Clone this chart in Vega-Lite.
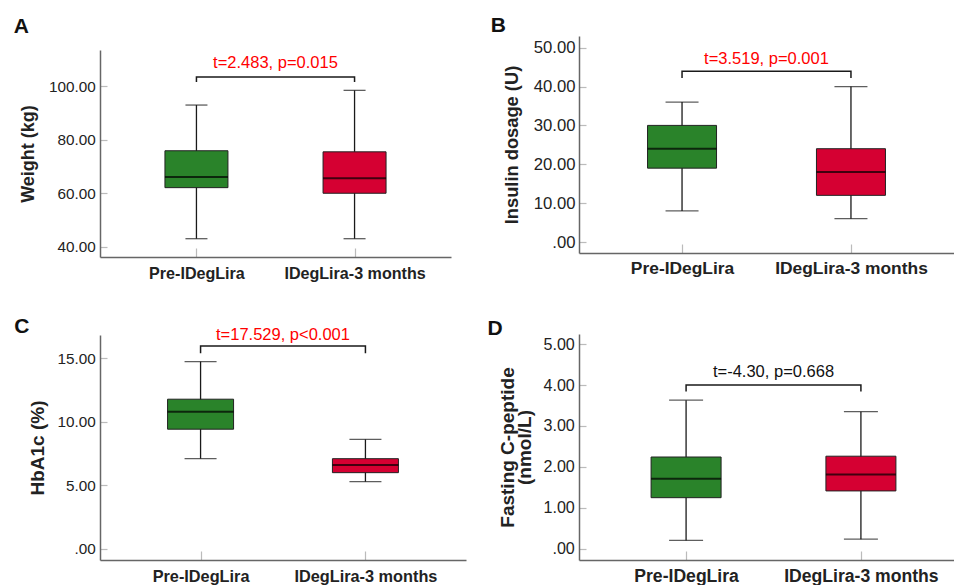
{
  "$schema": "https://vega.github.io/schema/vega-lite/v6.json",
  "background": "white",
  "padding": {"left": 13, "top": 15, "right": 0, "bottom": 0},
  "datasets": {
    "boxes": [
      {"panel": "A", "group": "Pre-IDegLira", "min": 43, "q1": 62.1, "median": 66.1, "q3": 75.9, "max": 93},
      {"panel": "A", "group": "IDegLira-3 months", "min": 43, "q1": 60, "median": 65.6, "q3": 75.5, "max": 98.5},
      {"panel": "B", "group": "Pre-IDegLira", "min": 8, "q1": 19, "median": 24, "q3": 30, "max": 36},
      {"panel": "B", "group": "IDegLira-3 months", "min": 6, "q1": 12, "median": 18, "q3": 24, "max": 40},
      {"panel": "C", "group": "Pre-IDegLira", "min": 7.1, "q1": 9.42, "median": 10.79, "q3": 11.78, "max": 14.74},
      {"panel": "C", "group": "IDegLira-3 months", "min": 5.29, "q1": 6.0, "median": 6.6, "q3": 7.1, "max": 8.62},
      {"panel": "D", "group": "Pre-IDegLira", "min": 0.2, "q1": 1.245, "median": 1.71, "q3": 2.24, "max": 3.63},
      {"panel": "D", "group": "IDegLira-3 months", "min": 0.23, "q1": 1.41, "median": 1.81, "q3": 2.26, "max": 3.35}
    ],
    "brackets": [
      {"panel": "A", "group": "Pre-IDegLira", "y": 101.6, "order": 1},
      {"panel": "A", "group": "Pre-IDegLira", "y": 103.5, "order": 2},
      {"panel": "A", "group": "IDegLira-3 months", "y": 103.5, "order": 3},
      {"panel": "A", "group": "IDegLira-3 months", "y": 101.6, "order": 4},
      {"panel": "B", "group": "Pre-IDegLira", "y": 42.2, "order": 1},
      {"panel": "B", "group": "Pre-IDegLira", "y": 43.9, "order": 2},
      {"panel": "B", "group": "IDegLira-3 months", "y": 43.9, "order": 3},
      {"panel": "B", "group": "IDegLira-3 months", "y": 42.2, "order": 4},
      {"panel": "C", "group": "Pre-IDegLira", "y": 15.39, "order": 1},
      {"panel": "C", "group": "Pre-IDegLira", "y": 15.97, "order": 2},
      {"panel": "C", "group": "IDegLira-3 months", "y": 15.97, "order": 3},
      {"panel": "C", "group": "IDegLira-3 months", "y": 15.39, "order": 4},
      {"panel": "D", "group": "Pre-IDegLira", "y": 3.84, "order": 1},
      {"panel": "D", "group": "Pre-IDegLira", "y": 4.0, "order": 2},
      {"panel": "D", "group": "IDegLira-3 months", "y": 4.0, "order": 3},
      {"panel": "D", "group": "IDegLira-3 months", "y": 3.84, "order": 4}
    ],
    "stats": [
      {"panel": "A", "label": "t=2.483, p=0.015", "y": 108.7},
      {"panel": "B", "label": "t=3.519, p=0.001", "y": 47.2},
      {"panel": "C", "label": "t=17.529, p<0.001", "y": 16.83},
      {"panel": "D", "label": "t=-4.30, p=0.668", "y": 4.31}
    ]
  },
  "hconcat": [
    {
      "vconcat": [
        {
          "width": 351, "height": 221,
          "title": {"text": "A", "offset": -1, "dx": -6},
          "layer": [
            {"data": {"name": "boxes"}, "transform": [{"filter": "datum.panel === 'A'"}],
             "mark": {"type": "rule", "color": "#1a1a1a", "strokeWidth": 1.3},
             "encoding": {
               "x": {"field": "group", "type": "nominal", "title": null, "sort": null, "scale": {"type": "point", "padding": 0.61, "domain": ["Pre-IDegLira", "IDegLira-3 months"]}, "axis": {"labelFontSize": 16.1, "labelPadding": 17}},
               "y": {"field": "min", "type": "quantitative", "title": "Weight (kg)", "scale": {"domain": [36.15, 113.6], "range": [221, 14], "nice": false, "zero": false}, "axis": {"values": [40, 60, 80, 100], "labelExpr": "datum.value === 0 ? '.00' : format(datum.value, '.2f')", "labelFontSize": 15.3, "titleFontSize": 18, "titlePadding": 10.7, "labelPadding": 11.7}},
               "y2": {"field": "max"}}},
            {"data": {"name": "boxes"}, "transform": [{"filter": "datum.panel === 'A'"}],
             "mark": {"type": "bar", "size": 63, "stroke": "#222", "strokeWidth": 1},
             "encoding": {
               "x": {"field": "group", "type": "nominal", "title": null, "sort": null, "scale": {"type": "point", "padding": 0.61, "domain": ["Pre-IDegLira", "IDegLira-3 months"]}, "axis": {"labelFontSize": 16.1, "labelPadding": 17}},
               "y": {"field": "q1", "type": "quantitative", "title": "Weight (kg)"},
               "y2": {"field": "q3"},
               "color": {"field": "group", "type": "nominal", "legend": null, "scale": {"domain": ["Pre-IDegLira", "IDegLira-3 months"], "range": ["#2a832a", "#d50032"]}}}},
            {"data": {"name": "boxes"}, "transform": [{"filter": "datum.panel === 'A'"}],
             "mark": {"type": "tick", "size": 63, "thickness": 2, "color": "#000"},
             "encoding": {
               "x": {"field": "group", "type": "nominal", "title": null, "sort": null, "scale": {"type": "point", "padding": 0.61, "domain": ["Pre-IDegLira", "IDegLira-3 months"]}, "axis": {"labelFontSize": 16.1, "labelPadding": 17}},
               "y": {"field": "median", "type": "quantitative", "title": "Weight (kg)"}}},
            {"data": {"name": "boxes"}, "transform": [{"filter": "datum.panel === 'A'"}],
             "mark": {"type": "tick", "size": 22, "thickness": 1.3, "color": "#1a1a1a"},
             "encoding": {
               "x": {"field": "group", "type": "nominal", "title": null, "sort": null, "scale": {"type": "point", "padding": 0.61, "domain": ["Pre-IDegLira", "IDegLira-3 months"]}, "axis": {"labelFontSize": 16.1, "labelPadding": 17}},
               "y": {"field": "min", "type": "quantitative", "title": "Weight (kg)"}}},
            {"data": {"name": "boxes"}, "transform": [{"filter": "datum.panel === 'A'"}],
             "mark": {"type": "tick", "size": 22, "thickness": 1.3, "color": "#1a1a1a"},
             "encoding": {
               "x": {"field": "group", "type": "nominal", "title": null, "sort": null, "scale": {"type": "point", "padding": 0.61, "domain": ["Pre-IDegLira", "IDegLira-3 months"]}, "axis": {"labelFontSize": 16.1, "labelPadding": 17}},
               "y": {"field": "max", "type": "quantitative", "title": "Weight (kg)"}}},
            {"data": {"name": "brackets"}, "transform": [{"filter": "datum.panel === 'A'"}],
             "mark": {"type": "line", "color": "#1a1a1a", "strokeWidth": 1.5},
             "encoding": {
               "x": {"field": "group", "type": "nominal", "title": null, "sort": null, "scale": {"type": "point", "padding": 0.61, "domain": ["Pre-IDegLira", "IDegLira-3 months"]}, "axis": {"labelFontSize": 16.1, "labelPadding": 17}},
               "y": {"field": "y", "type": "quantitative", "title": "Weight (kg)"},
               "order": {"field": "order"}}},
            {"data": {"name": "stats"}, "transform": [{"filter": "datum.panel === 'A'"}],
             "mark": {"type": "text", "fontSize": 16.5, "color": "#ff0000", "baseline": "middle"},
             "encoding": {
               "y": {"field": "y", "type": "quantitative", "title": "Weight (kg)"},
               "text": {"field": "label"}}}
          ]
        },
        {
          "width": 366, "height": 225,
          "title": {"text": "C", "offset": -10, "dx": -14},
          "layer": [
            {"data": {"name": "boxes"}, "transform": [{"filter": "datum.panel === 'C'"}],
             "mark": {"type": "rule", "color": "#1a1a1a", "strokeWidth": 1.3},
             "encoding": {
               "x": {"field": "group", "type": "nominal", "title": null, "sort": null, "scale": {"type": "point", "padding": 0.61, "domain": ["Pre-IDegLira", "IDegLira-3 months"]}, "axis": {"labelFontSize": 16.3, "labelPadding": 17.4}},
               "y": {"field": "min", "type": "quantitative", "title": "HbA1c (%)", "scale": {"domain": [-0.87, 16.83], "nice": false, "zero": false}, "axis": {"values": [0, 5, 10, 15], "labelExpr": "datum.value === 0 ? '.00' : format(datum.value, '.2f')", "labelFontSize": 15.3, "titleFontSize": 19, "titlePadding": 9.8, "labelPadding": 11.7}},
               "y2": {"field": "max"}}},
            {"data": {"name": "boxes"}, "transform": [{"filter": "datum.panel === 'C'"}],
             "mark": {"type": "bar", "size": 66, "stroke": "#222", "strokeWidth": 1},
             "encoding": {
               "x": {"field": "group", "type": "nominal", "title": null, "sort": null, "scale": {"type": "point", "padding": 0.61, "domain": ["Pre-IDegLira", "IDegLira-3 months"]}, "axis": {"labelFontSize": 16.3, "labelPadding": 17.4}},
               "y": {"field": "q1", "type": "quantitative", "title": "HbA1c (%)"},
               "y2": {"field": "q3"},
               "color": {"field": "group", "type": "nominal", "legend": null, "scale": {"domain": ["Pre-IDegLira", "IDegLira-3 months"], "range": ["#2a832a", "#d50032"]}}}},
            {"data": {"name": "boxes"}, "transform": [{"filter": "datum.panel === 'C'"}],
             "mark": {"type": "tick", "size": 66, "thickness": 2, "color": "#000"},
             "encoding": {
               "x": {"field": "group", "type": "nominal", "title": null, "sort": null, "scale": {"type": "point", "padding": 0.61, "domain": ["Pre-IDegLira", "IDegLira-3 months"]}, "axis": {"labelFontSize": 16.3, "labelPadding": 17.4}},
               "y": {"field": "median", "type": "quantitative", "title": "HbA1c (%)"}}},
            {"data": {"name": "boxes"}, "transform": [{"filter": "datum.panel === 'C'"}],
             "mark": {"type": "tick", "size": 32, "thickness": 1.3, "color": "#1a1a1a"},
             "encoding": {
               "x": {"field": "group", "type": "nominal", "title": null, "sort": null, "scale": {"type": "point", "padding": 0.61, "domain": ["Pre-IDegLira", "IDegLira-3 months"]}, "axis": {"labelFontSize": 16.3, "labelPadding": 17.4}},
               "y": {"field": "min", "type": "quantitative", "title": "HbA1c (%)"}}},
            {"data": {"name": "boxes"}, "transform": [{"filter": "datum.panel === 'C'"}],
             "mark": {"type": "tick", "size": 32, "thickness": 1.3, "color": "#1a1a1a"},
             "encoding": {
               "x": {"field": "group", "type": "nominal", "title": null, "sort": null, "scale": {"type": "point", "padding": 0.61, "domain": ["Pre-IDegLira", "IDegLira-3 months"]}, "axis": {"labelFontSize": 16.3, "labelPadding": 17.4}},
               "y": {"field": "max", "type": "quantitative", "title": "HbA1c (%)"}}},
            {"data": {"name": "brackets"}, "transform": [{"filter": "datum.panel === 'C'"}],
             "mark": {"type": "line", "color": "#1a1a1a", "strokeWidth": 1.5},
             "encoding": {
               "x": {"field": "group", "type": "nominal", "title": null, "sort": null, "scale": {"type": "point", "padding": 0.61, "domain": ["Pre-IDegLira", "IDegLira-3 months"]}, "axis": {"labelFontSize": 16.3, "labelPadding": 17.4}},
               "y": {"field": "y", "type": "quantitative", "title": "HbA1c (%)"},
               "order": {"field": "order"}}},
            {"data": {"name": "stats"}, "transform": [{"filter": "datum.panel === 'C'"}],
             "mark": {"type": "text", "fontSize": 16.5, "color": "#ff0000", "baseline": "middle"},
             "encoding": {
               "y": {"field": "y", "type": "quantitative", "title": "HbA1c (%)"},
               "text": {"field": "label"}}}
          ]
        }
      ],
      "spacing": 34
    },
    {
      "vconcat": [
        {
          "width": 375, "height": 217,
          "title": {"text": "B", "offset": 0, "dx": -12},
          "layer": [
            {"data": {"name": "boxes"}, "transform": [{"filter": "datum.panel === 'B'"}],
             "mark": {"type": "rule", "color": "#1a1a1a", "strokeWidth": 1.3},
             "encoding": {
               "x": {"field": "group", "type": "nominal", "title": null, "sort": null, "scale": {"type": "point", "padding": 0.61, "domain": ["Pre-IDegLira", "IDegLira-3 months"]}, "axis": {"labelFontSize": 17.4, "labelPadding": 15.3}},
               "y": {"field": "min", "type": "quantitative", "title": "Insulin dosage (U)", "scale": {"domain": [-2.83, 53.0], "nice": false, "zero": false}, "axis": {"values": [0, 10, 20, 30, 40, 50], "labelExpr": "datum.value === 0 ? '.00' : format(datum.value, '.2f')", "labelFontSize": 16.7, "titleFontSize": 18.3, "titlePadding": 11.5, "labelPadding": 11}},
               "y2": {"field": "max"}}},
            {"data": {"name": "boxes"}, "transform": [{"filter": "datum.panel === 'B'"}],
             "mark": {"type": "bar", "size": 69, "stroke": "#222", "strokeWidth": 1},
             "encoding": {
               "x": {"field": "group", "type": "nominal", "title": null, "sort": null, "scale": {"type": "point", "padding": 0.61, "domain": ["Pre-IDegLira", "IDegLira-3 months"]}, "axis": {"labelFontSize": 17.4, "labelPadding": 15.3}},
               "y": {"field": "q1", "type": "quantitative", "title": "Insulin dosage (U)"},
               "y2": {"field": "q3"},
               "color": {"field": "group", "type": "nominal", "legend": null, "scale": {"domain": ["Pre-IDegLira", "IDegLira-3 months"], "range": ["#2a832a", "#d50032"]}}}},
            {"data": {"name": "boxes"}, "transform": [{"filter": "datum.panel === 'B'"}],
             "mark": {"type": "tick", "size": 69, "thickness": 2, "color": "#000"},
             "encoding": {
               "x": {"field": "group", "type": "nominal", "title": null, "sort": null, "scale": {"type": "point", "padding": 0.61, "domain": ["Pre-IDegLira", "IDegLira-3 months"]}, "axis": {"labelFontSize": 17.4, "labelPadding": 15.3}},
               "y": {"field": "median", "type": "quantitative", "title": "Insulin dosage (U)"}}},
            {"data": {"name": "boxes"}, "transform": [{"filter": "datum.panel === 'B'"}],
             "mark": {"type": "tick", "size": 33, "thickness": 1.3, "color": "#1a1a1a"},
             "encoding": {
               "x": {"field": "group", "type": "nominal", "title": null, "sort": null, "scale": {"type": "point", "padding": 0.61, "domain": ["Pre-IDegLira", "IDegLira-3 months"]}, "axis": {"labelFontSize": 17.4, "labelPadding": 15.3}},
               "y": {"field": "min", "type": "quantitative", "title": "Insulin dosage (U)"}}},
            {"data": {"name": "boxes"}, "transform": [{"filter": "datum.panel === 'B'"}],
             "mark": {"type": "tick", "size": 33, "thickness": 1.3, "color": "#1a1a1a"},
             "encoding": {
               "x": {"field": "group", "type": "nominal", "title": null, "sort": null, "scale": {"type": "point", "padding": 0.61, "domain": ["Pre-IDegLira", "IDegLira-3 months"]}, "axis": {"labelFontSize": 17.4, "labelPadding": 15.3}},
               "y": {"field": "max", "type": "quantitative", "title": "Insulin dosage (U)"}}},
            {"data": {"name": "brackets"}, "transform": [{"filter": "datum.panel === 'B'"}],
             "mark": {"type": "line", "color": "#1a1a1a", "strokeWidth": 1.5},
             "encoding": {
               "x": {"field": "group", "type": "nominal", "title": null, "sort": null, "scale": {"type": "point", "padding": 0.61, "domain": ["Pre-IDegLira", "IDegLira-3 months"]}, "axis": {"labelFontSize": 17.4, "labelPadding": 15.3}},
               "y": {"field": "y", "type": "quantitative", "title": "Insulin dosage (U)"},
               "order": {"field": "order"}}},
            {"data": {"name": "stats"}, "transform": [{"filter": "datum.panel === 'B'"}],
             "mark": {"type": "text", "fontSize": 16.5, "color": "#ff0000", "baseline": "middle"},
             "encoding": {
               "y": {"field": "y", "type": "quantitative", "title": "Insulin dosage (U)"},
               "text": {"field": "label"}}}
          ]
        },
        {
          "width": 389, "height": 226,
          "title": {"text": "D", "offset": -5, "dx": -11.5},
          "layer": [
            {"data": {"name": "boxes"}, "transform": [{"filter": "datum.panel === 'D'"}],
             "mark": {"type": "rule", "color": "#1a1a1a", "strokeWidth": 1.3},
             "encoding": {
               "x": {"field": "group", "type": "nominal", "title": null, "sort": null, "scale": {"type": "point", "padding": 0.6125, "domain": ["Pre-IDegLira", "IDegLira-3 months"]}, "axis": {"labelFontSize": 17.6, "labelPadding": 16.2}},
               "y": {"field": "min", "type": "quantitative", "title": ["Fasting C-peptide", "(nmol/L)"], "scale": {"domain": [-0.28, 5.25], "nice": false, "zero": false}, "axis": {"values": [0, 1, 2, 3, 4, 5], "labelExpr": "datum.value === 0 ? '.00' : format(datum.value, '.2f')", "labelFontSize": 16.1, "titleFontSize": 19, "titlePadding": 8, "titleLineHeight": 17, "labelPadding": 11.7}},
               "y2": {"field": "max"}}},
            {"data": {"name": "boxes"}, "transform": [{"filter": "datum.panel === 'D'"}],
             "mark": {"type": "bar", "size": 70, "stroke": "#222", "strokeWidth": 1},
             "encoding": {
               "x": {"field": "group", "type": "nominal", "title": null, "sort": null, "scale": {"type": "point", "padding": 0.6125, "domain": ["Pre-IDegLira", "IDegLira-3 months"]}, "axis": {"labelFontSize": 17.6, "labelPadding": 16.2}},
               "y": {"field": "q1", "type": "quantitative", "title": ["Fasting C-peptide", "(nmol/L)"]},
               "y2": {"field": "q3"},
               "color": {"field": "group", "type": "nominal", "legend": null, "scale": {"domain": ["Pre-IDegLira", "IDegLira-3 months"], "range": ["#2a832a", "#d50032"]}}}},
            {"data": {"name": "boxes"}, "transform": [{"filter": "datum.panel === 'D'"}],
             "mark": {"type": "tick", "size": 70, "thickness": 2, "color": "#000"},
             "encoding": {
               "x": {"field": "group", "type": "nominal", "title": null, "sort": null, "scale": {"type": "point", "padding": 0.6125, "domain": ["Pre-IDegLira", "IDegLira-3 months"]}, "axis": {"labelFontSize": 17.6, "labelPadding": 16.2}},
               "y": {"field": "median", "type": "quantitative", "title": ["Fasting C-peptide", "(nmol/L)"]}}},
            {"data": {"name": "boxes"}, "transform": [{"filter": "datum.panel === 'D'"}],
             "mark": {"type": "tick", "size": 34, "thickness": 1.3, "color": "#1a1a1a"},
             "encoding": {
               "x": {"field": "group", "type": "nominal", "title": null, "sort": null, "scale": {"type": "point", "padding": 0.6125, "domain": ["Pre-IDegLira", "IDegLira-3 months"]}, "axis": {"labelFontSize": 17.6, "labelPadding": 16.2}},
               "y": {"field": "min", "type": "quantitative", "title": ["Fasting C-peptide", "(nmol/L)"]}}},
            {"data": {"name": "boxes"}, "transform": [{"filter": "datum.panel === 'D'"}],
             "mark": {"type": "tick", "size": 34, "thickness": 1.3, "color": "#1a1a1a"},
             "encoding": {
               "x": {"field": "group", "type": "nominal", "title": null, "sort": null, "scale": {"type": "point", "padding": 0.6125, "domain": ["Pre-IDegLira", "IDegLira-3 months"]}, "axis": {"labelFontSize": 17.6, "labelPadding": 16.2}},
               "y": {"field": "max", "type": "quantitative", "title": ["Fasting C-peptide", "(nmol/L)"]}}},
            {"data": {"name": "brackets"}, "transform": [{"filter": "datum.panel === 'D'"}],
             "mark": {"type": "line", "color": "#1a1a1a", "strokeWidth": 1.5},
             "encoding": {
               "x": {"field": "group", "type": "nominal", "title": null, "sort": null, "scale": {"type": "point", "padding": 0.6125, "domain": ["Pre-IDegLira", "IDegLira-3 months"]}, "axis": {"labelFontSize": 17.6, "labelPadding": 16.2}},
               "y": {"field": "y", "type": "quantitative", "title": ["Fasting C-peptide", "(nmol/L)"]},
               "order": {"field": "order"}}},
            {"data": {"name": "stats"}, "transform": [{"filter": "datum.panel === 'D'"}],
             "mark": {"type": "text", "fontSize": 16.5, "color": "#111", "baseline": "middle"},
             "encoding": {
               "y": {"field": "y", "type": "quantitative", "title": ["Fasting C-peptide", "(nmol/L)"]},
               "text": {"field": "label"}}}
          ]
        }
      ],
      "spacing": 41
    }
  ],
  "spacing": 21,
  "config": {
    "view": {"stroke": null},
    "font": "Liberation Sans",
    "title": {"anchor": "start", "frame": "bounds", "fontSize": 21, "fontWeight": "bold", "color": "#111", "baseline": "alphabetic", "font": "Liberation Sans"},
    "axis": {"grid": false, "domainColor": "#666", "domainWidth": 1.5, "tickColor": "#bbb", "tickWidth": 1.2, "labelColor": "#222", "titleColor": "#222", "labelFont": "Liberation Sans", "titleFont": "Liberation Sans"},
    "axisY": {"tickSize": -7, "titleFontWeight": "bold", "titleLineHeight": 19},
    "axisX": {"tickSize": -9, "labelFontWeight": "bold", "labelAngle": 0}
  }
}
